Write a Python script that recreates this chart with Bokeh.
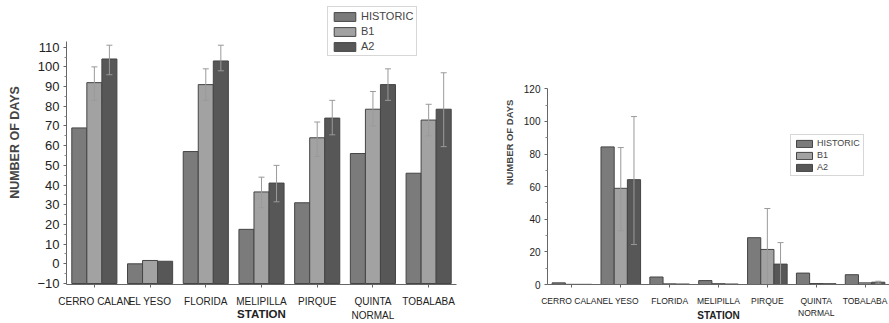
from bokeh.plotting import figure
from bokeh.models import ColumnDataSource, Range1d, FixedTicker, Legend, LegendItem
from bokeh.transform import dodge
from bokeh.layouts import row
from bokeh.embed import file_html
from bokeh.resources import INLINE

stations = ["CERRO CALAN", "EL YESO", "FLORIDA", "MELIPILLA", "PIRQUE", "QUINTA\nNORMAL", "TOBALABA"]
series = ["HISTORIC", "B1", "A2"]
NAN = float("nan")

# Left chart
hist_l = [69, 0, 57, 17.5, 31, 56, 46]
b1_l = [92, 1.7, 91, 36.5, 64, 78.5, 73]
a2_l = [104, 1.3, 103, 41, 74, 91, 78.5]
b1_l_hi = [100, NAN, 99, 44, 72, 87.5, 81]
b1_l_lo = [83, NAN, 83, 28.5, 54.5, 70, 65]
a2_l_hi = [111, NAN, 111, 50, 83, 99, 97]
a2_l_lo = [96, NAN, 98, 31.5, 65.5, 83, 59.5]
yticks_l = list(range(-10, 111, 10))

# Right chart
hist_r = [1, 84.4, 4.6, 2.4, 28.7, 7, 6]
b1_r = [0.1, 59, 0.4, 0.5, 21.5, 0.6, 1]
a2_r = [0.1, 64.3, 0.3, 0.3, 12.5, 0.5, 1.4]
b1_r_hi = [NAN, 84, NAN, NAN, 46.6, NAN, NAN]
b1_r_lo = [NAN, 33, NAN, NAN, 0, NAN, NAN]
a2_r_hi = [NAN, 103, NAN, NAN, 25.7, NAN, 2]
a2_r_lo = [NAN, 24.5, NAN, NAN, 0, NAN, 0.8]
yticks_r = list(range(0, 121, 20))

colors = ["#7b7b7b", "#a2a2a2", "#575757"]
FONT = "Liberation Sans"


def make(width, height, borders, yrange, ybounds, yticks, minor, hist, b1, a2, errs, base,
         fs, leg_loc, leg_fs, glyph_w, glyph_h, leg_spacing, axis_fs, label_fs,
         tick_label_fs, std_axis, std_ticklab, std_xlabel, xlab_lh):
    src = ColumnDataSource(dict(station=stations, HISTORIC=hist, B1=b1, A2=a2,
                                b1_hi=errs[0], b1_lo=errs[1], a2_hi=errs[2], a2_lo=errs[3]))
    p = figure(x_range=stations, y_range=Range1d(*yrange), width=width, height=height,
               output_backend="svg", toolbar_location=None,
               min_border_left=borders[0], min_border_right=borders[1],
               min_border_top=borders[2], min_border_bottom=borders[3])
    p.x_range.range_padding = 0
    p.outline_line_color = None
    p.xgrid.grid_line_color = None
    p.ygrid.grid_line_color = None
    offs = [-0.27, 0.0, 0.27]
    items = []
    for s, c, o in zip(series, colors, offs):
        r = p.vbar(x=dodge("station", o, range=p.x_range), top=s, bottom=base, width=0.27,
                   fill_color=c, line_color="#454545", line_width=1, source=src)
        items.append(LegendItem(label=s, renderers=[r]))
    for o, hi, lo in [(0.0, "b1_hi", "b1_lo"), (0.27, "a2_hi", "a2_lo")]:
        p.segment(x0=dodge("station", o, range=p.x_range), x1=dodge("station", o, range=p.x_range),
                  y0=lo, y1=hi, line_color="#9a9a9a", line_width=1, source=src)
        for col in (hi, lo):
            p.scatter(x=dodge("station", o, range=p.x_range), y=col, marker="dash", size=6,
                      line_color="#9a9a9a", line_width=1, source=src)
    leg = Legend(items=items, location=leg_loc, label_text_font_size=leg_fs,
                 label_text_font=FONT, glyph_width=glyph_w, glyph_height=glyph_h,
                 label_height=glyph_h, spacing=leg_spacing, padding=3, margin=0, label_standoff=3,
                 border_line_color="#b0b0b0", border_line_width=1, background_fill_alpha=1)
    p.add_layout(leg, "center")

    p.yaxis.ticker = FixedTicker(ticks=yticks, minor_ticks=minor)
    p.yaxis.bounds = ybounds
    p.yaxis.axis_label = "NUMBER OF DAYS"
    p.yaxis.axis_label_text_font = FONT
    p.yaxis.axis_label_text_font_style = "bold"
    p.yaxis.axis_label_text_font_size = axis_fs
    p.yaxis.axis_label_standoff = std_axis
    p.yaxis.major_label_text_font = FONT
    p.yaxis.major_label_text_font_size = tick_label_fs
    p.yaxis.major_label_text_color = "#222222"
    p.yaxis.major_label_standoff = 4
    for ax in (p.xaxis, p.yaxis):
        ax.axis_line_color = "#666666"
        ax.major_tick_line_color = "#666666"
        ax.minor_tick_line_color = "#888888"
        ax.major_tick_in = 0
        ax.major_tick_out = 3
        ax.minor_tick_in = 0
        ax.minor_tick_out = 2
    p.xaxis.major_label_text_font = FONT
    p.xaxis.major_label_text_font_size = label_fs
    p.xaxis.major_label_text_color = "#222222"
    p.xaxis.major_label_text_line_height = xlab_lh
    p.xaxis.major_label_standoff = std_ticklab
    p.xaxis.major_label_orientation = "horizontal"
    p.xaxis.axis_label = "STATION"
    p.xaxis.axis_label_text_font = FONT
    p.xaxis.axis_label_text_font_style = "bold"
    p.xaxis.axis_label_text_font_size = fs
    p.xaxis.axis_label_text_color = "#222222"
    p.xaxis.axis_label_text_line_height = 0.8
    p.xaxis.axis_label_standoff = std_xlabel
    return p


p1 = make(458, 323, (66, 2, 0, 30), (-10.5, 133.7), (-10.5, 113), yticks_l, list(range(-5, 111, 10)),
          hist_l, b1_l, a2_l, (b1_l_hi, b1_l_lo, a2_l_hi, a2_l_lo), -10,
          "11.5px", (261, 228), "11px", 27, 11, 3, "12.5px", "10px", "13px", 12, 8, -16, 1.3)
p2 = make(431, 323, (89, 0, 0, 30), (0, 174.2), (0, 120), yticks_r, list(range(10, 121, 20)),
          hist_r, b1_r, a2_r, (b1_r_hi, b1_r_lo, a2_r_hi, a2_r_lo), 0,
          "10px", (243, 108), "9px", 20, 9, 2, "9.5px", "8.5px", "10px", 6, 8, -11, 1.2)

layout = row(p1, p2)
open("out.html", "w").write(file_html(layout, INLINE))
